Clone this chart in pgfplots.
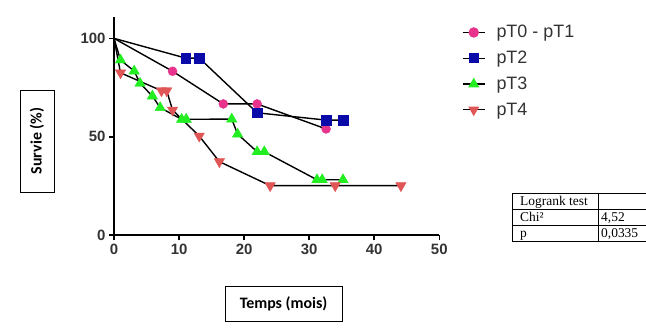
\documentclass[border=0pt]{standalone}
\usepackage{pgfplots}
\pgfplotsset{compat=1.18}
\usepackage{fontspec}
\setmainfont{Liberation Sans}
\newfontfamily\calib{Carlito}
\newfontfamily\tnr{Liberation Serif}
\definecolor{cpink}{HTML}{E8338C}
\definecolor{cblue}{HTML}{0A0AA8}
\definecolor{cgreen}{HTML}{22EE22}
\definecolor{cred}{HTML}{E05555}
\definecolor{cgray}{HTML}{333333}
\begin{document}
\begin{tikzpicture}
\useasboundingbox (0,0) rectangle (646bp,334bp);
\begin{axis}[
  at={(114bp,98.7bp)}, anchor=origin,
  scale only axis, width=325.3bp, height=218.6bp,
  xmin=0, xmax=50, ymin=0, ymax=111,
  axis lines*=left,
  axis line style={line width=1.6bp, black},
  tick style={line width=1.6bp, black},
  tick align=outside, major tick length=5bp,
  xtick={0,10,...,50}, ytick={0,50,100},
  /pgf/number format/assume math mode=true,
  ticklabel style={font=\fontsize{15}{15}\selectfont\bfseries, text=cgray},
  clip=false,
  legend style={at={(1.06,0.979)}, anchor=north west, draw=none, fill=none,
    font=\fontsize{18}{18}\selectfont, text=cgray, row sep=7.8bp,
    /tikz/every odd column/.append style={column sep=9bp}},
  legend cell align=left,
  legend image code/.code={\draw[mark repeat=2,mark phase=2,#1] plot coordinates {(0cm,0cm) (0.39cm,0cm) (0.78cm,0cm)};},
]
% pT0 - pT1
\addplot[black, line width=1.4bp, no marks, forget plot] coordinates {
  (0,100) (9,83.3) (16.8,66.7) (22,66.7) (32.6,54)};
\addplot[only marks, mark=*, mark size=4.5bp, draw=cpink, fill=cpink, forget plot] coordinates {
  (9,83.3) (16.8,66.7) (22,66.7) (32.6,54)};
% pT2
\addplot[black, line width=1.4bp, no marks, forget plot] coordinates {
  (0,100) (11,90) (13.1,90) (22,62.2) (32.6,58.5) (35.2,58.5)};
\addplot[only marks, mark=square*, mark size=4.8bp, draw=cblue, fill=cblue, forget plot] coordinates {
  (11,90) (13.1,90) (22,62.2) (32.6,58.5) (35.2,58.5)};
% pT3
\addplot[black, line width=1.4bp, no marks, forget plot] coordinates {
  (0,100) (1,89) (3.1,83.4) (4,77.2) (5.9,70.7) (7.1,64.8) (10.4,58.9) (11.1,58.9)
  (18.1,59) (19,51.4) (22,42.4) (23.1,42.4) (31.2,28.2) (32,28.2) (35.2,28.2)};
\addplot[only marks, mark=triangle*, mark size=6bp, draw=cgreen, fill=cgreen, forget plot] coordinates {
  (1,89) (3.1,83.4) (4,77.2) (5.9,70.7) (7.1,64.8) (10.4,58.9) (11.1,58.9)
  (18.1,59) (19,51.4) (22,42.4) (23.1,42.4) (31.2,28.2) (32,28.2) (35.2,28.2)};
% pT4
\addplot[black, line width=1.4bp, no marks, forget plot] coordinates {
  (0,100) (1,82.5) (7.3,73.4) (8.1,73.4) (9,63.6) (13.1,50.4) (16.2,37.4)
  (24,25.2) (34,25.2) (44.1,25.2)};
\addplot[only marks, mark=triangle*, mark size=6bp, draw=cred, fill=cred, mark options={rotate=180}, forget plot] coordinates {
  (1,82.5) (7.3,73.4) (8.1,73.4) (9,63.6) (13.1,50.4) (16.2,37.4)
  (24,25.2) (34,25.2) (44.1,25.2)};
\addlegendimage{black, line width=1.4bp, mark=*, mark size=4.5bp, mark options={draw=cpink, fill=cpink}}
\addlegendentry{pT0 - pT1}
\addlegendimage{black, line width=1.4bp, mark=square*, mark size=4.5bp, mark options={draw=cblue, fill=cblue}}
\addlegendentry{pT2}
\addlegendimage{black, line width=1.4bp, mark=triangle*, mark size=5bp, mark options={draw=cgreen, fill=cgreen}}
\addlegendentry{pT3}
\addlegendimage{black, line width=1.4bp, mark=triangle*, mark size=5bp, mark options={draw=cred, fill=cred, rotate=180}}
\addlegendentry{pT4}
\end{axis}
% axis label boxes
\node[draw=black, line width=0.8bp, rotate=90, minimum width=102bp, minimum height=34bp,
  font=\calib\bfseries\fontsize{16}{16}\selectfont, inner sep=0pt] at (37bp,193bp) {Survie (\%)};
\node[draw=black, line width=0.8bp, minimum width=117bp, minimum height=35bp,
  font=\calib\bfseries\fontsize{16}{16}\selectfont, inner sep=0pt] at (283.6bp,29.8bp) {Temps (mois)};
% logrank table
\begin{scope}[line width=0.7bp]
\draw (646bp,140.7bp) -- (512.3bp,140.7bp) -- (512.3bp,93bp) -- (646bp,93bp);
\draw (512.3bp,124.8bp) -- (646bp,124.8bp);
\draw (512.3bp,109bp) -- (646bp,109bp);
\draw (598.3bp,140.7bp) -- (598.3bp,93bp);
\end{scope}
\begin{scope}[every node/.style={font=\tnr\fontsize{13.5}{13.5}\selectfont, anchor=base west, inner sep=0pt}]
\node at (520bp,128.5bp) {Logrank test};
\node at (520bp,112.7bp) {Chi²};
\node at (601bp,112.7bp) {4,52};
\node at (520bp,96.8bp) {p};
\node at (601bp,96.8bp) {0,0335};
\end{scope}
\end{tikzpicture}
\end{document}
